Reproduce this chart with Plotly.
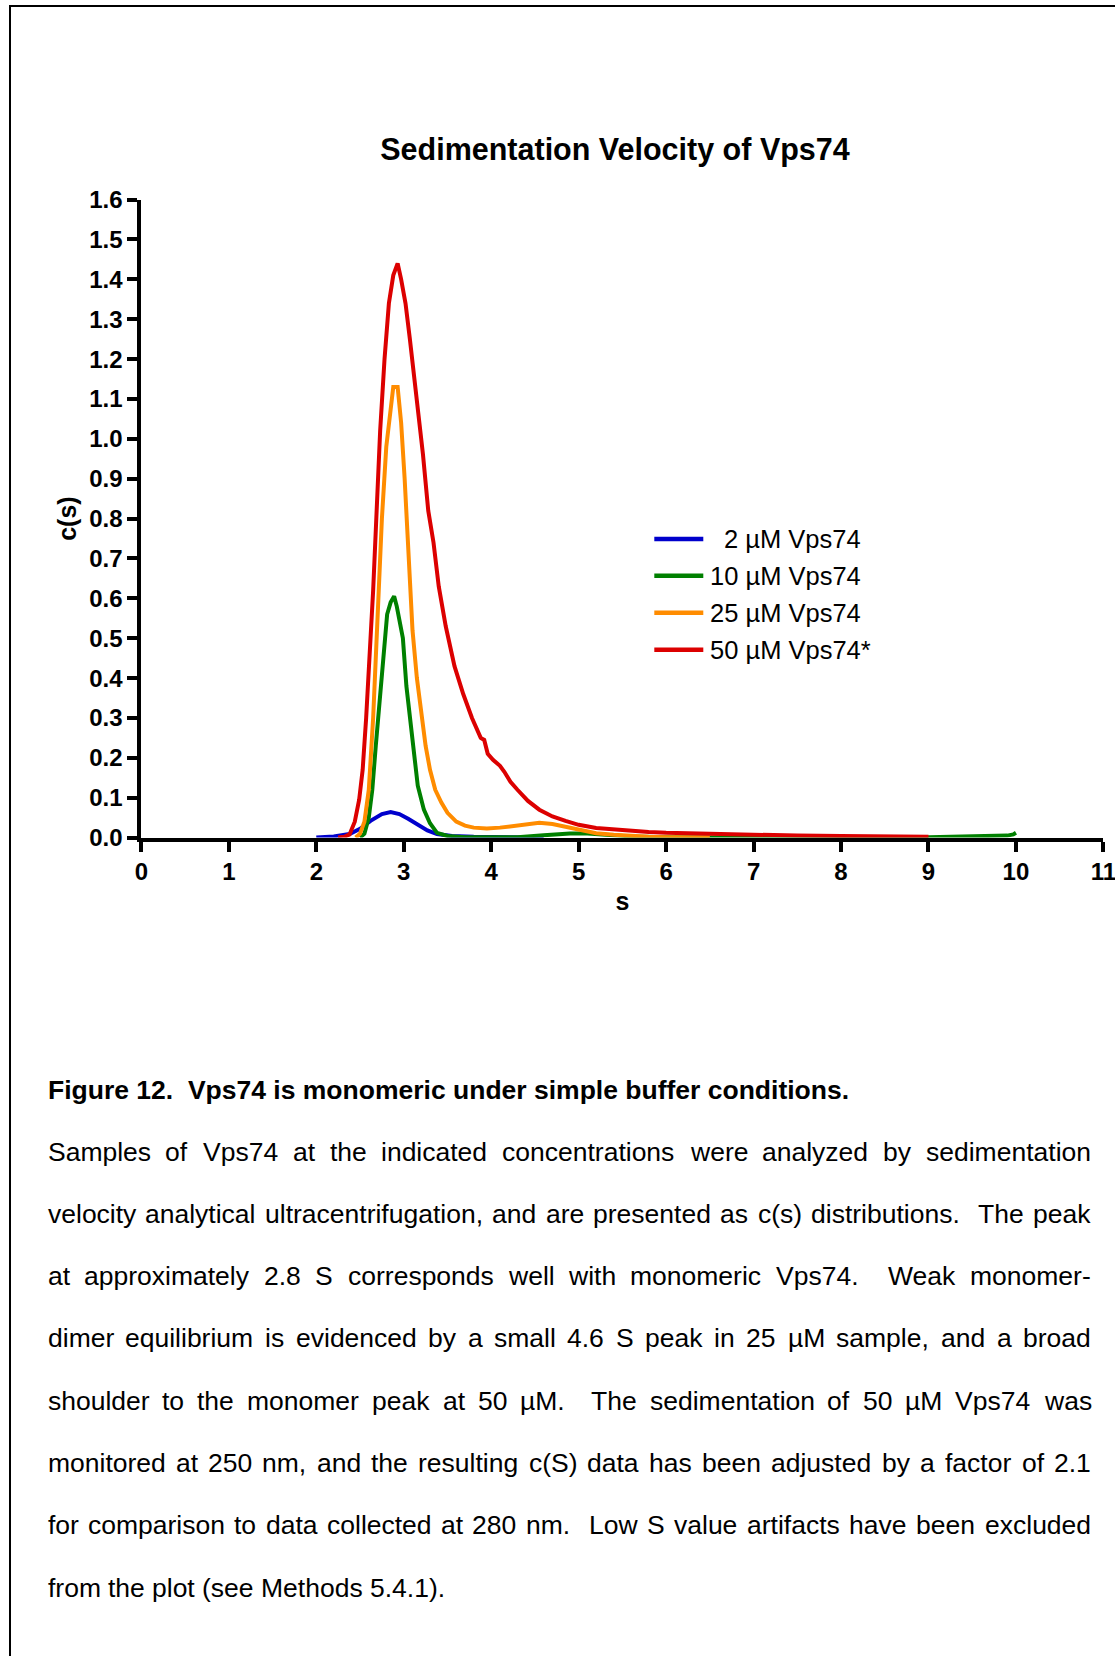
import re
import plotly.graph_objects as go

# ---------------- data ----------------
series_names = ["2 µM Vps74", "10 µM Vps74", "25 µM Vps74", "50 µM Vps74*"]
series_colors = ["#0000CC", "#008000", "#FF8C00", "#DC0000"]

s_2uM = [2.00, 2.20, 2.38, 2.50, 2.62, 2.75, 2.85, 2.95, 3.05, 3.16, 3.27, 3.38, 3.55, 3.80, 4.20, 4.60]
c_2uM = [0.000, 0.003, 0.009, 0.022, 0.042, 0.059, 0.064, 0.059, 0.047, 0.032, 0.018, 0.009, 0.004, 0.002, 0.001, 0.000]

s_10uM = [2.50, 2.55, 2.60, 2.64, 2.68, 2.73, 2.77, 2.81, 2.85, 2.89, 2.92, 2.95, 2.99, 3.03, 3.08,
          3.12, 3.16, 3.23, 3.30, 3.38, 3.50, 3.70, 4.00, 4.30, 4.60, 4.90, 5.10, 5.30, 5.60, 6.00,
          7.00, 8.00, 9.00, 9.50, 9.90, 9.97, 10.00]
c_10uM = [0.000, 0.010, 0.050, 0.120, 0.230, 0.360, 0.480, 0.560, 0.590, 0.605, 0.580, 0.550, 0.500, 0.380, 0.280,
          0.190, 0.130, 0.070, 0.036, 0.012, 0.004, 0.001, 0.000, 0.001, 0.006, 0.010, 0.010, 0.007, 0.003, 0.001,
          0.000, 0.000, 0.001, 0.003, 0.005, 0.008, 0.012]

s_25uM = [2.45, 2.50, 2.55, 2.60, 2.65, 2.70, 2.75, 2.80, 2.85, 2.88, 2.93, 2.97, 3.01, 3.05, 3.10,
          3.15, 3.20, 3.25, 3.30, 3.36, 3.43, 3.50, 3.60, 3.70, 3.80, 3.95, 4.10, 4.25, 4.40, 4.55,
          4.70, 4.85, 5.00, 5.20, 5.40, 5.60, 5.80, 6.00, 6.50]
c_25uM = [0.000, 0.010, 0.040, 0.120, 0.300, 0.550, 0.800, 0.980, 1.080, 1.130, 1.130, 1.040, 0.900, 0.720, 0.520,
          0.400, 0.310, 0.230, 0.170, 0.120, 0.088, 0.062, 0.040, 0.030, 0.025, 0.023, 0.025, 0.029, 0.033, 0.037,
          0.034, 0.027, 0.018, 0.011, 0.007, 0.004, 0.002, 0.001, 0.000]

s_50uM = [2.25, 2.32, 2.38, 2.44, 2.49, 2.53, 2.57, 2.61, 2.65, 2.69, 2.73, 2.78, 2.83, 2.88, 2.93,
          2.97, 3.02, 3.07, 3.12, 3.17, 3.22, 3.28, 3.34, 3.40, 3.48, 3.58, 3.68, 3.78, 3.88, 3.92,
          3.96, 4.02, 4.10, 4.15, 4.22, 4.30, 4.42, 4.55, 4.70, 4.85, 5.00, 5.20, 5.50, 5.80, 6.00,
          6.50, 7.00, 7.50, 8.00, 8.50, 9.00]
c_50uM = [0.000, 0.002, 0.008, 0.040, 0.095, 0.170, 0.300, 0.450, 0.620, 0.820, 1.020, 1.200, 1.340, 1.410, 1.440,
          1.400, 1.340, 1.250, 1.160, 1.060, 0.960, 0.820, 0.740, 0.630, 0.530, 0.430, 0.360, 0.300, 0.250, 0.245,
          0.210, 0.195, 0.180, 0.165, 0.140, 0.120, 0.092, 0.070, 0.053, 0.042, 0.032, 0.024, 0.018, 0.014, 0.012,
          0.009, 0.007, 0.005, 0.004, 0.003, 0.002]

series_x = [s_2uM, s_10uM, s_25uM, s_50uM]
series_y = [c_2uM, c_10uM, c_25uM, c_50uM]

chart_title = "Sedimentation Velocity of Vps74"
x_title = "s"
y_title = "c(s)"
x_tick_values = list(range(0, 12))
y_tick_values = [round(i * 0.1, 1) for i in range(0, 17)]

caption_heading = "Figure 12.\u00a0 Vps74 is monomeric under simple buffer conditions."
caption_lines = [
    "Samples of Vps74 at the indicated concentrations were analyzed by sedimentation",
    "velocity analytical ultracentrifugation, and are presented as c(s) distributions.  The peak",
    "at approximately 2.8 S corresponds well with monomeric Vps74.  Weak monomer-",
    "dimer equilibrium is evidenced by a small 4.6 S peak in 25 µM sample, and a broad",
    "shoulder to the monomer peak at 50 µM.  The sedimentation of 50 µM Vps74 was",
    "monitored at 250 nm, and the resulting c(S) data has been adjusted by a factor of 2.1",
    "for comparison to data collected at 280 nm.  Low S value artifacts have been excluded",
    "from the plot (see Methods 5.4.1).",
]

# ---------------- layout helpers ----------------
W, H = 1115, 1656
FONT = "Liberation Sans, Arial, Helvetica, sans-serif"


def px(x):
    return x / W


def py(y):
    return 1 - y / H


# Arial / Liberation Sans advance widths (per 1000 em)
ADV = {' ': 278, '.': 278, ',': 278, '(': 333, ')': 333, '-': 333, 'µ': 576}
for ch, w in zip("abcdefghijklmnopqrstuvwxyz",
                 [556, 556, 500, 556, 556, 278, 556, 556, 222, 222, 500, 222, 833, 556, 556, 556, 556, 333,
                  500, 278, 556, 500, 722, 500, 500, 500]):
    ADV[ch] = w
for ch, w in zip("ABCDEFGHIJKLMNOPQRSTUVWXYZ",
                 [667, 667, 722, 722, 667, 611, 778, 722, 278, 500, 667, 556, 833, 722, 778, 667, 778, 722,
                  667, 611, 722, 667, 944, 667, 667, 611]):
    ADV[ch] = w
for ch in "0123456789":
    ADV[ch] = 556


def text_width(s, fs):
    return sum(ADV.get(c, 556) for c in s) / 1000.0 * fs


fig = go.Figure()
for name, color, xs, ys in zip(series_names, series_colors, series_x, series_y):
    fig.add_trace(go.Scatter(x=xs, y=ys, mode="lines", name=name,
                             line=dict(color=color, width=4), showlegend=False))

plot_left, plot_right = 141.4, 1103.4
plot_top, plot_bottom = 199.6, 837.6

axis_common = dict(
    showline=True, linewidth=4, linecolor="black",
    ticks="outside", ticklen=10, tickwidth=3.5, tickcolor="black",
    showgrid=False, zeroline=False, ticklabeloverflow="allow", automargin=False,
    tickfont=dict(family=FONT, size=24, color="black", weight="bold"),
)

fig.update_xaxes(range=[0, 11], tickvals=x_tick_values, domain=[px(plot_left), px(plot_right)],
                 title=dict(text="<b>%s</b>" % x_title, font=dict(family=FONT, size=25, color="black"),
                            standoff=9),
                 **axis_common)
fig.update_yaxes(range=[0, 1.6], tickvals=y_tick_values, tickformat=".1f",
                 domain=[py(plot_bottom), py(plot_top)],
                 title=dict(text="<b>%s</b>" % y_title, font=dict(family=FONT, size=25, color="black"),
                            standoff=6),
                 **axis_common)

annotations = []
shapes = []

# legend (manual)
LEG_FS = 25.5
legend_rows = [539.0, 575.7, 612.7, 649.7]
for name, color, yr in zip(series_names, series_colors, legend_rows):
    shapes.append(dict(type="line", xref="paper", yref="paper", x0=px(654.3), x1=px(703.3),
                       y0=py(yr), y1=py(yr), line=dict(color=color, width=4.5)))
    lbl_x = 709.0
    num = name.split(" ")[0]
    if len(num) == 1:
        lbl_x += text_width("0", LEG_FS)
    annotations.append(dict(text=name, x=px(lbl_x), y=py(yr), xref="paper", yref="paper",
                            xanchor="left", yanchor="middle", showarrow=False, borderpad=0,
                            font=dict(family=FONT, size=LEG_FS, color="black")))

# caption heading
annotations.append(dict(text="<b>%s</b>" % caption_heading, x=px(46.5), y=py(1089.5), xref="paper",
                        yref="paper", xanchor="left", yanchor="middle", showarrow=False, borderpad=0,
                        font=dict(family=FONT, size=26.5, color="black")))

# justified caption body, one annotation per word
CAP_FS = 26.5
left_x, right_x = 46.5, 1089.7
first_y, line_step = 1151.5, 62.3
for i, line in enumerate(caption_lines):
    yl = first_y + i * line_step
    parts = re.split(r"( +)", line)
    words = [p for p in parts if p and not p.startswith(" ")]
    n_space = sum(len(p) for p in parts if p.startswith(" "))
    words_w = sum(text_width(w, CAP_FS) for w in words)
    if i < len(caption_lines) - 1 and n_space > 0:
        gap = (right_x - left_x - words_w) / n_space
    else:
        gap = text_width(" ", CAP_FS)
    cur = left_x
    for p in parts:
        if not p:
            continue
        if p.startswith(" "):
            cur += gap * len(p)
            continue
        annotations.append(dict(text=p, x=px(cur), y=py(yl), xref="paper", yref="paper",
                                xanchor="left", yanchor="middle", showarrow=False, borderpad=0,
                                font=dict(family=FONT, size=CAP_FS, color="black")))
        cur += text_width(p, CAP_FS)

# outer frame: top and left edges only, kept inside the figure
shapes.append(dict(type="line", xref="paper", yref="paper", x0=px(9), x1=1.0, y0=py(6), y1=py(6),
                   line=dict(color="black", width=2)))
shapes.append(dict(type="line", xref="paper", yref="paper", x0=px(10), x1=px(10), y0=0.0, y1=py(5),
                   line=dict(color="black", width=2)))

fig.update_layout(
    width=W, height=H,
    margin=dict(l=0, r=0, t=0, b=0, pad=0, autoexpand=False),
    paper_bgcolor="white", plot_bgcolor="white",
    title=dict(text="<b>%s</b>" % chart_title, x=px(615), y=py(149), xref="paper", yref="container",
               xanchor="center", yanchor="middle", automargin=False,
               font=dict(family=FONT, size=30.5, color="black")),
    annotations=annotations,
    shapes=shapes,
    showlegend=False,
)

fig.write_html("out.html")
